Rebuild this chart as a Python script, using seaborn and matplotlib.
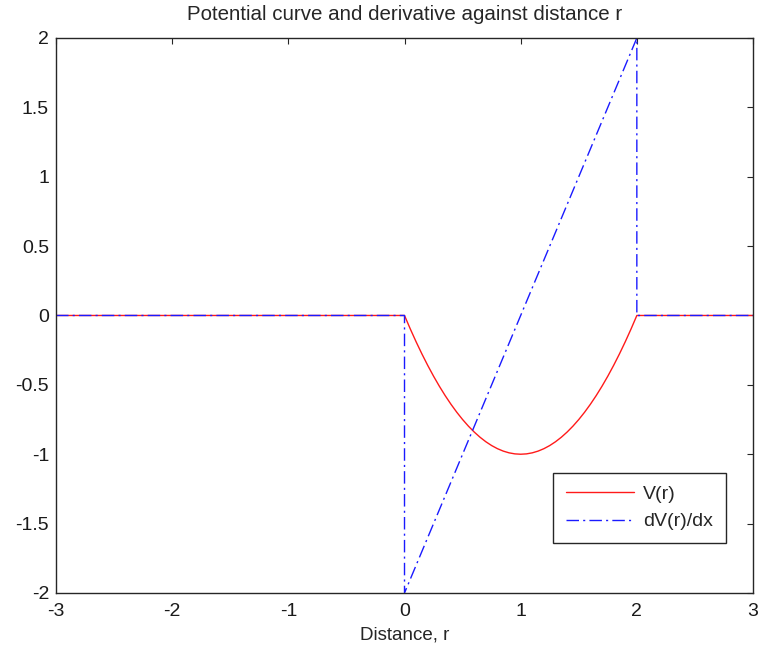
import matplotlib
matplotlib.use("Agg")
import matplotlib.pyplot as plt
import seaborn as sns
import pandas as pd

# potential V(r)
r_v = [-3, 0, 0.05, 0.1, 0.15, 0.2, 0.25, 0.3, 0.35, 0.4, 0.45, 0.5, 0.55, 0.6, 0.65,
       0.7, 0.75, 0.8, 0.85, 0.9, 0.95, 1.0, 1.05, 1.1, 1.15, 1.2, 1.25, 1.3, 1.35,
       1.4, 1.45, 1.5, 1.55, 1.6, 1.65, 1.7, 1.75, 1.8, 1.85, 1.9, 1.95, 2.0, 3]
v_vals = [0, 0, -0.0975, -0.19, -0.2775, -0.36, -0.4375, -0.51, -0.5775, -0.64, -0.6975,
          -0.75, -0.7975, -0.84, -0.8775, -0.91, -0.9375, -0.96, -0.9775, -0.99, -0.9975,
          -1.0, -0.9975, -0.99, -0.9775, -0.96, -0.9375, -0.91, -0.8775, -0.84, -0.7975,
          -0.75, -0.6975, -0.64, -0.5775, -0.51, -0.4375, -0.36, -0.2775, -0.19, -0.0975,
          0, 0]

# derivative dV/dx
r_dv = [-3, 0, 0, 2, 2, 3]
dv_vals = [0, 0, -2, 2, 0, 0]

x_ticks = [-3, -2, -1, 0, 1, 2, 3]
y_ticks = [-2, -1.5, -1, -0.5, 0, 0.5, 1, 1.5, 2]
y_labels = ["-2", "-1.5", "-1", "-0.5", "0", "0.5", "1", "1.5", "2"]


def generate_plot():
    sns.set_style("white")
    plt.rcParams['font.family'] = ['Liberation Sans', 'DejaVu Sans']

    df_v = pd.DataFrame({'r': r_v, 'V': v_vals})
    df_dv = pd.DataFrame({'r': r_dv, 'dV': dv_vals})

    fig = plt.figure(figsize=(7.6, 6.55), dpi=100)
    ax = fig.add_axes([0.0737, 0.0947, 0.9171, 0.8473])

    sns.lineplot(data=df_v, x='r', y='V', ax=ax, color='#ff1a1a', linewidth=1.0,
                 estimator=None, sort=False, label='V(r)')
    sns.lineplot(data=df_dv, x='r', y='dV', ax=ax, color='#1a1aff', linewidth=1.0,
                 estimator=None, sort=False, label='dV(r)/dx',
                 linestyle=(0, (9, 3, 1.5, 3)))

    ax.set_xlim(-3, 3)
    ax.set_ylim(-2, 2)
    ax.set_xticks(x_ticks)
    ax.set_xticklabels([str(t) for t in x_ticks])
    ax.set_yticks(y_ticks)
    ax.set_yticklabels(y_labels)
    ax.tick_params(direction='in', length=4, width=0.8, colors='#262626',
                   labelsize=14, top=True, right=True, labelcolor='#1a1a1a')
    ax.tick_params(axis='x', pad=7)
    ax.tick_params(axis='y', pad=5)
    for s in ax.spines.values():
        s.set_color('#262626')
        s.set_linewidth(1.0)

    ax.set_title('Potential curve and derivative against distance r', fontsize=14.8, pad=13)
    ax.set_xlabel('Distance, r', fontsize=13.5, labelpad=5)
    ax.set_ylabel('')

    leg = ax.legend(loc='lower right', bbox_to_anchor=(0.961, 0.09), borderaxespad=0,
                    fontsize=14, handlelength=3.5, fancybox=False, framealpha=1,
                    edgecolor='#262626', borderpad=0.65, labelspacing=0.5,
                    handletextpad=0.5)
    leg.get_frame().set_linewidth(1.0)

    fig.savefig('out.png', dpi=100, facecolor='white')
    plt.close(fig)


if __name__ == "__main__":
    generate_plot()
